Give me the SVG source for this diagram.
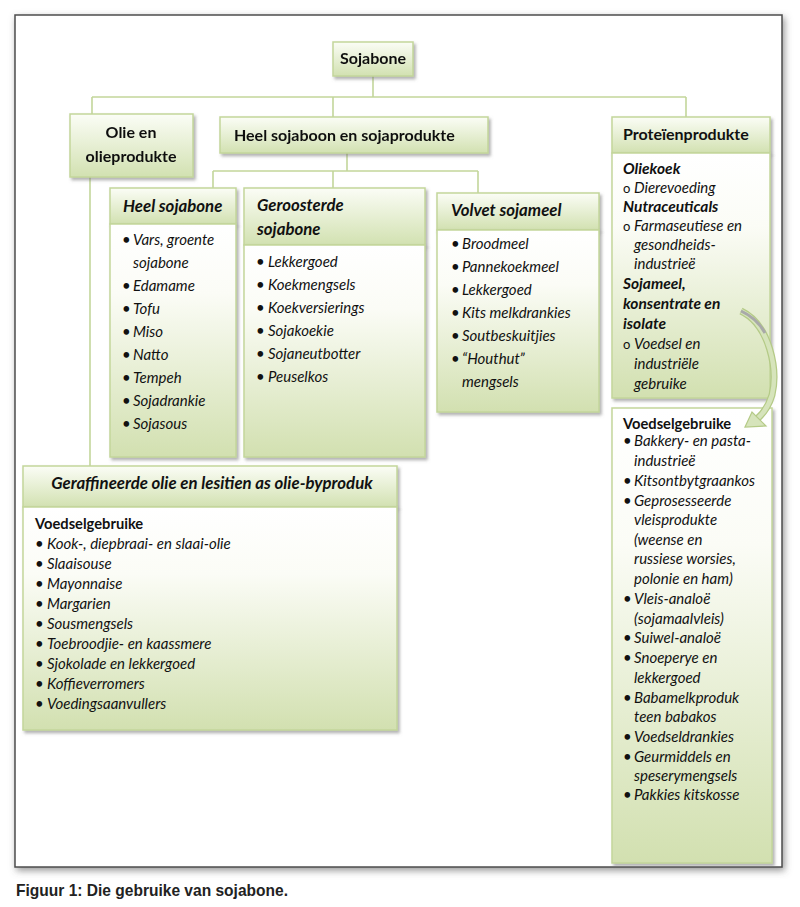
<svg xmlns="http://www.w3.org/2000/svg" width="800" height="907" viewBox="0 0 800 907">
<defs>
<linearGradient id="gh" x1="0" y1="0" x2="0" y2="1"><stop offset="0" stop-color="#fbfdf6"/><stop offset="1" stop-color="#d2e1b1"/></linearGradient>
<linearGradient id="gb" x1="0" y1="0" x2="0" y2="1"><stop offset="0" stop-color="#ffffff"/><stop offset="0.3" stop-color="#fbfcf6"/><stop offset="1" stop-color="#d2e0b0"/></linearGradient>
<filter id="sh" x="-10%" y="-10%" width="130%" height="130%"><feDropShadow dx="2" dy="2.5" stdDeviation="1.5" flood-color="#6f6f6f" flood-opacity="0.55"/></filter>
<filter id="fs" x="-5%" y="-5%" width="110%" height="110%"><feDropShadow dx="2" dy="3" stdDeviation="3.5" flood-color="#555" flood-opacity="0.6"/></filter>
<style>
.c{stroke:#c3d69b;stroke-width:1.6;fill:none}
.hd{fill:url(#gh);stroke:#c3d69b;stroke-width:1.5}
.bd{fill:url(#gb);stroke:#c3d69b;stroke-width:1.5}
text{font-family:Lato,"Open Sans",sans-serif;fill:#111}
.h1{font-weight:bold;font-size:16px}
.h2{font-weight:bold;font-style:italic;font-size:16.8px}
.it{font-style:italic;font-size:15px}
.b{font-weight:bold;font-size:14.7px}
.bi{font-weight:bold;font-style:italic;font-size:15.5px}
.o{font-size:13px}
.cap{font-family:"Liberation Sans Narrow","Liberation Sans",sans-serif;font-weight:bold;font-size:17px;fill:#222}
</style>
</defs>
<rect x="0" y="0" width="800" height="907" fill="#ffffff"/>
<rect x="15" y="15" width="767" height="852" fill="#ffffff" stroke="#4d4d4d" stroke-width="1.5" filter="url(#fs)"/>

<g id="connectors">
<path class="c" d="M373 76V97M92 97H686M92 97V114M333 97V117M686 97V117M347 153V171M213 171H478M213 171V188M333 171V188M478 171V193M90 177V466"/>
</g>

<g id="sojabone" filter="url(#sh)">
<rect class="hd" x="333" y="42" width="80" height="34"/>
<text class="h1" x="373" y="64" text-anchor="middle">Sojabone</text>
</g>

<g id="olie" filter="url(#sh)">
<rect class="hd" x="70" y="114" width="123" height="63"/>
<text class="h1" x="131" y="138" text-anchor="middle">Olie en</text>
<text class="h1" x="131" y="162" text-anchor="middle">olieprodukte</text>
</g>

<g id="heelsojaboon" filter="url(#sh)">
<rect class="hd" x="220" y="117" width="268" height="36"/>
<text class="h1" x="234" y="141">Heel sojaboon en sojaprodukte</text>
</g>

<g id="proteien">
<rect class="hd" x="612" y="117" width="158" height="36" filter="url(#sh)"/>
<rect class="bd" x="612" y="153" width="158" height="245" filter="url(#sh)"/>
<text class="h1" x="623" y="140">Proteïenprodukte</text>
<text class="bi" x="623" y="174">Oliekoek</text>
<text class="o" x="623" y="193">o</text><text class="it" x="634" y="193">Dierevoeding</text>
<text class="bi" x="623" y="212">Nutraceuticals</text>
<text class="o" x="623" y="231">o</text><text class="it" x="634" y="231">Farmaseutiese en</text>
<text class="it" x="634" y="250">gesondheids-</text>
<text class="it" x="634" y="269">industrieë</text>
<text class="bi" x="623" y="289">Sojameel,</text>
<text class="bi" x="623" y="309">konsentrate en</text>
<text class="bi" x="623" y="329">isolate</text>
<text class="o" x="623" y="349">o</text><text class="it" x="634" y="349">Voedsel en</text>
<text class="it" x="634" y="369">industriële</text>
<text class="it" x="634" y="389">gebruike</text>
</g>

<g id="heelsojabone">
<rect class="hd" x="110" y="188" width="126" height="36" filter="url(#sh)"/>
<rect class="bd" x="110" y="224" width="126" height="233" filter="url(#sh)"/>
<text class="h2" x="123" y="212">Heel sojabone</text>
<text class="it" x="122" y="245">•</text><text class="it" x="133" y="245">Vars, groente</text>
<text class="it" x="133" y="268">sojabone</text>
<text class="it" x="122" y="291">•</text><text class="it" x="133" y="291">Edamame</text>
<text class="it" x="122" y="314">•</text><text class="it" x="133" y="314">Tofu</text>
<text class="it" x="122" y="337">•</text><text class="it" x="133" y="337">Miso</text>
<text class="it" x="122" y="360">•</text><text class="it" x="133" y="360">Natto</text>
<text class="it" x="122" y="383">•</text><text class="it" x="133" y="383">Tempeh</text>
<text class="it" x="122" y="406">•</text><text class="it" x="133" y="406">Sojadrankie</text>
<text class="it" x="122" y="429">•</text><text class="it" x="133" y="429">Sojasous</text>
</g>

<g id="geroosterde">
<rect class="hd" x="244" y="188" width="181" height="57" filter="url(#sh)"/>
<rect class="bd" x="244" y="245" width="181" height="212" filter="url(#sh)"/>
<text class="h2" x="257" y="211">Geroosterde</text>
<text class="h2" x="257" y="235">sojabone</text>
<text class="it" x="256" y="267">•</text><text class="it" x="268" y="267">Lekkergoed</text>
<text class="it" x="256" y="290">•</text><text class="it" x="268" y="290">Koekmengsels</text>
<text class="it" x="256" y="313">•</text><text class="it" x="268" y="313">Koekversierings</text>
<text class="it" x="256" y="336">•</text><text class="it" x="268" y="336">Sojakoekie</text>
<text class="it" x="256" y="359">•</text><text class="it" x="268" y="359">Sojaneutbotter</text>
<text class="it" x="256" y="382">•</text><text class="it" x="268" y="382">Peuselkos</text>
</g>

<g id="volvet">
<rect class="hd" x="437" y="193" width="162" height="37" filter="url(#sh)"/>
<rect class="bd" x="437" y="230" width="162" height="182" filter="url(#sh)"/>
<text class="h2" x="451" y="216">Volvet sojameel</text>
<text class="it" x="451" y="249">•</text><text class="it" x="462" y="249">Broodmeel</text>
<text class="it" x="451" y="272">•</text><text class="it" x="462" y="272">Pannekoekmeel</text>
<text class="it" x="451" y="295">•</text><text class="it" x="462" y="295">Lekkergoed</text>
<text class="it" x="451" y="318">•</text><text class="it" x="462" y="318">Kits melkdrankies</text>
<text class="it" x="451" y="341">•</text><text class="it" x="462" y="341">Soutbeskuitjies</text>
<text class="it" x="451" y="364">•</text><text class="it" x="462" y="364">“Houthut”</text>
<text class="it" x="462" y="387">mengsels</text>
</g>

<g id="geraffineerde">
<rect class="hd" x="23" y="466" width="374" height="41" filter="url(#sh)"/>
<rect class="bd" x="23" y="507" width="374" height="223" filter="url(#sh)"/>
<text class="h2" x="212" y="489" text-anchor="middle">Geraffineerde olie en lesitien as olie-byproduk</text>
<text class="b" x="35" y="529">Voedselgebruike</text>
<text class="it" x="35" y="549">•</text><text class="it" x="47" y="549">Kook-, diepbraai- en slaai-olie</text>
<text class="it" x="35" y="569">•</text><text class="it" x="47" y="569">Slaaisouse</text>
<text class="it" x="35" y="589">•</text><text class="it" x="47" y="589">Mayonnaise</text>
<text class="it" x="35" y="609">•</text><text class="it" x="47" y="609">Margarien</text>
<text class="it" x="35" y="629">•</text><text class="it" x="47" y="629">Sousmengsels</text>
<text class="it" x="35" y="649">•</text><text class="it" x="47" y="649">Toebroodjie- en kaassmere</text>
<text class="it" x="35" y="669">•</text><text class="it" x="47" y="669">Sjokolade en lekkergoed</text>
<text class="it" x="35" y="689">•</text><text class="it" x="47" y="689">Koffieverromers</text>
<text class="it" x="35" y="709">•</text><text class="it" x="47" y="709">Voedingsaanvullers</text>
</g>

<g id="voedselgebruike">
<rect class="bd" x="612" y="408" width="160" height="455" filter="url(#sh)"/>
<text class="b" x="623" y="429">Voedselgebruike</text>
<text class="it" x="623" y="446">•</text><text class="it" x="634" y="446">Bakkery- en pasta-</text>
<text class="it" x="634" y="466">industrieë</text>
<text class="it" x="623" y="486">•</text><text class="it" x="634" y="486">Kitsontbytgraankos</text>
<text class="it" x="623" y="506">•</text><text class="it" x="634" y="506">Geprosesseerde</text>
<text class="it" x="634" y="525">vleisprodukte</text>
<text class="it" x="634" y="545">(weense en</text>
<text class="it" x="634" y="564">russiese worsies,</text>
<text class="it" x="634" y="584">polonie en ham)</text>
<text class="it" x="623" y="604">•</text><text class="it" x="634" y="604">Vleis-analoë</text>
<text class="it" x="634" y="624">(sojamaalvleis)</text>
<text class="it" x="623" y="643">•</text><text class="it" x="634" y="643">Suiwel-analoë</text>
<text class="it" x="623" y="663">•</text><text class="it" x="634" y="663">Snoeperye en</text>
<text class="it" x="634" y="683">lekkergoed</text>
<text class="it" x="623" y="703">•</text><text class="it" x="634" y="703">Babamelkproduk</text>
<text class="it" x="634" y="722">teen babakos</text>
<text class="it" x="623" y="742">•</text><text class="it" x="634" y="742">Voedseldrankies</text>
<text class="it" x="623" y="762">•</text><text class="it" x="634" y="762">Geurmiddels en</text>
<text class="it" x="634" y="781">speserymengsels</text>
<text class="it" x="623" y="800">•</text><text class="it" x="634" y="800">Pakkies kitskosse</text>
</g>

<g id="curved-arrow">
<path d="M741 311C770 325 778 370 772 395C769 405 764 413 757 419" fill="none" stroke="#b4ca86" stroke-width="7"/>
<path d="M741 311C770 325 778 370 772 395C769 405 764 413 757 419" fill="none" stroke="#d6e4bb" stroke-width="4.5"/>
<path d="M741 311C752 316 760 324 765 333" fill="none" stroke="#a9a9a9" stroke-width="3"/>
<polygon points="745,427 752,412 766,426" fill="#d6e4bb" stroke="#b4ca86" stroke-width="1.2"/>
</g>

<text class="cap" x="16" y="896" textLength="272" lengthAdjust="spacingAndGlyphs">Figuur 1: Die gebruike van sojabone.</text>
</svg>
